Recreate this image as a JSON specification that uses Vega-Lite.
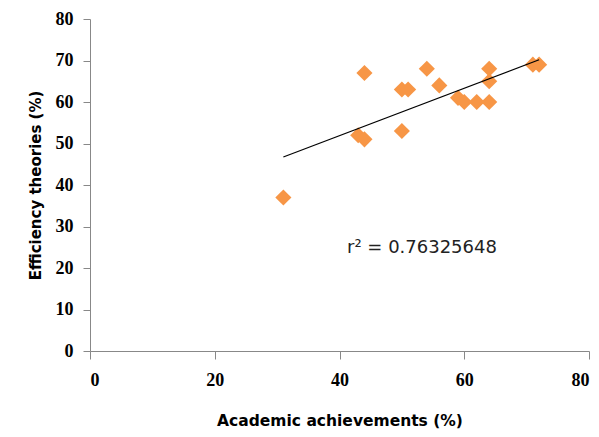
{
  "$schema": "https://vega.github.io/schema/vega-lite/v6.json",
  "width": 499,
  "height": 332,
  "autosize": {"type": "none"},
  "padding": {"left": 90, "top": 19, "right": 10, "bottom": 86},
  "background": "white",
  "config": {"view": {"stroke": null}},
  "datasets": {
    "pts": [
      {"academic": 31, "efficiency": 37},
      {"academic": 43, "efficiency": 52},
      {"academic": 44, "efficiency": 51},
      {"academic": 44, "efficiency": 67},
      {"academic": 50, "efficiency": 53},
      {"academic": 50, "efficiency": 63},
      {"academic": 51, "efficiency": 63},
      {"academic": 54, "efficiency": 68},
      {"academic": 56, "efficiency": 64},
      {"academic": 59, "efficiency": 61},
      {"academic": 60, "efficiency": 60},
      {"academic": 62, "efficiency": 60},
      {"academic": 64, "efficiency": 60},
      {"academic": 64, "efficiency": 65},
      {"academic": 64, "efficiency": 68},
      {"academic": 71, "efficiency": 69},
      {"academic": 72, "efficiency": 69}
    ],
    "label": [{"academic": 41.2, "efficiency": 23.6, "text": "r² = 0.76325648"}]
  },
  "encoding": {
    "x": {
      "field": "academic", "type": "quantitative",
      "scale": {"domain": [0, 80], "nice": false, "zero": false},
      "axis": {
        "title": "Academic achievements (%)",
        "values": [0, 20, 40, 60, 80],
        "grid": false,
        "domainColor": "#888888", "tickColor": "#888888", "tickSize": 8,
        "labelFont": "Liberation Serif", "labelFontWeight": "bold", "labelFontSize": 18, "labelColor": "black",
        "labelPadding": 12,
        "titleFont": "DejaVu Sans", "titleFontWeight": "bold", "titleFontSize": 15.5, "titleColor": "black",
        "titlePadding": 24
      }
    },
    "y": {
      "field": "efficiency", "type": "quantitative",
      "scale": {"domain": [0, 80], "nice": false, "zero": false},
      "axis": {
        "title": "Efficiency theories (%)",
        "values": [0, 10, 20, 30, 40, 50, 60, 70, 80],
        "grid": false,
        "domainColor": "#888888", "tickColor": "#888888", "tickSize": 7,
        "labelFont": "Liberation Serif", "labelFontWeight": "bold", "labelFontSize": 18, "labelColor": "black",
        "labelPadding": 10,
        "titleFont": "DejaVu Sans", "titleFontWeight": "bold", "titleFontSize": 15, "titleColor": "black",
        "titlePadding": 12
      }
    }
  },
  "layer": [
    {
      "data": {"name": "pts"},
      "mark": {"type": "point", "shape": "diamond", "filled": true, "size": 260, "color": "#F79646", "opacity": 1}
    },
    {
      "data": {"name": "pts"},
      "transform": [{"regression": "efficiency", "on": "academic"}],
      "mark": {"type": "line", "color": "black", "strokeWidth": 1.2}
    },
    {
      "data": {"name": "label"},
      "mark": {"type": "text", "align": "left", "baseline": "alphabetic", "font": "DejaVu Sans", "fontSize": 18, "color": "#222222"},
      "encoding": {"text": {"field": "text"}}
    }
  ]
}
